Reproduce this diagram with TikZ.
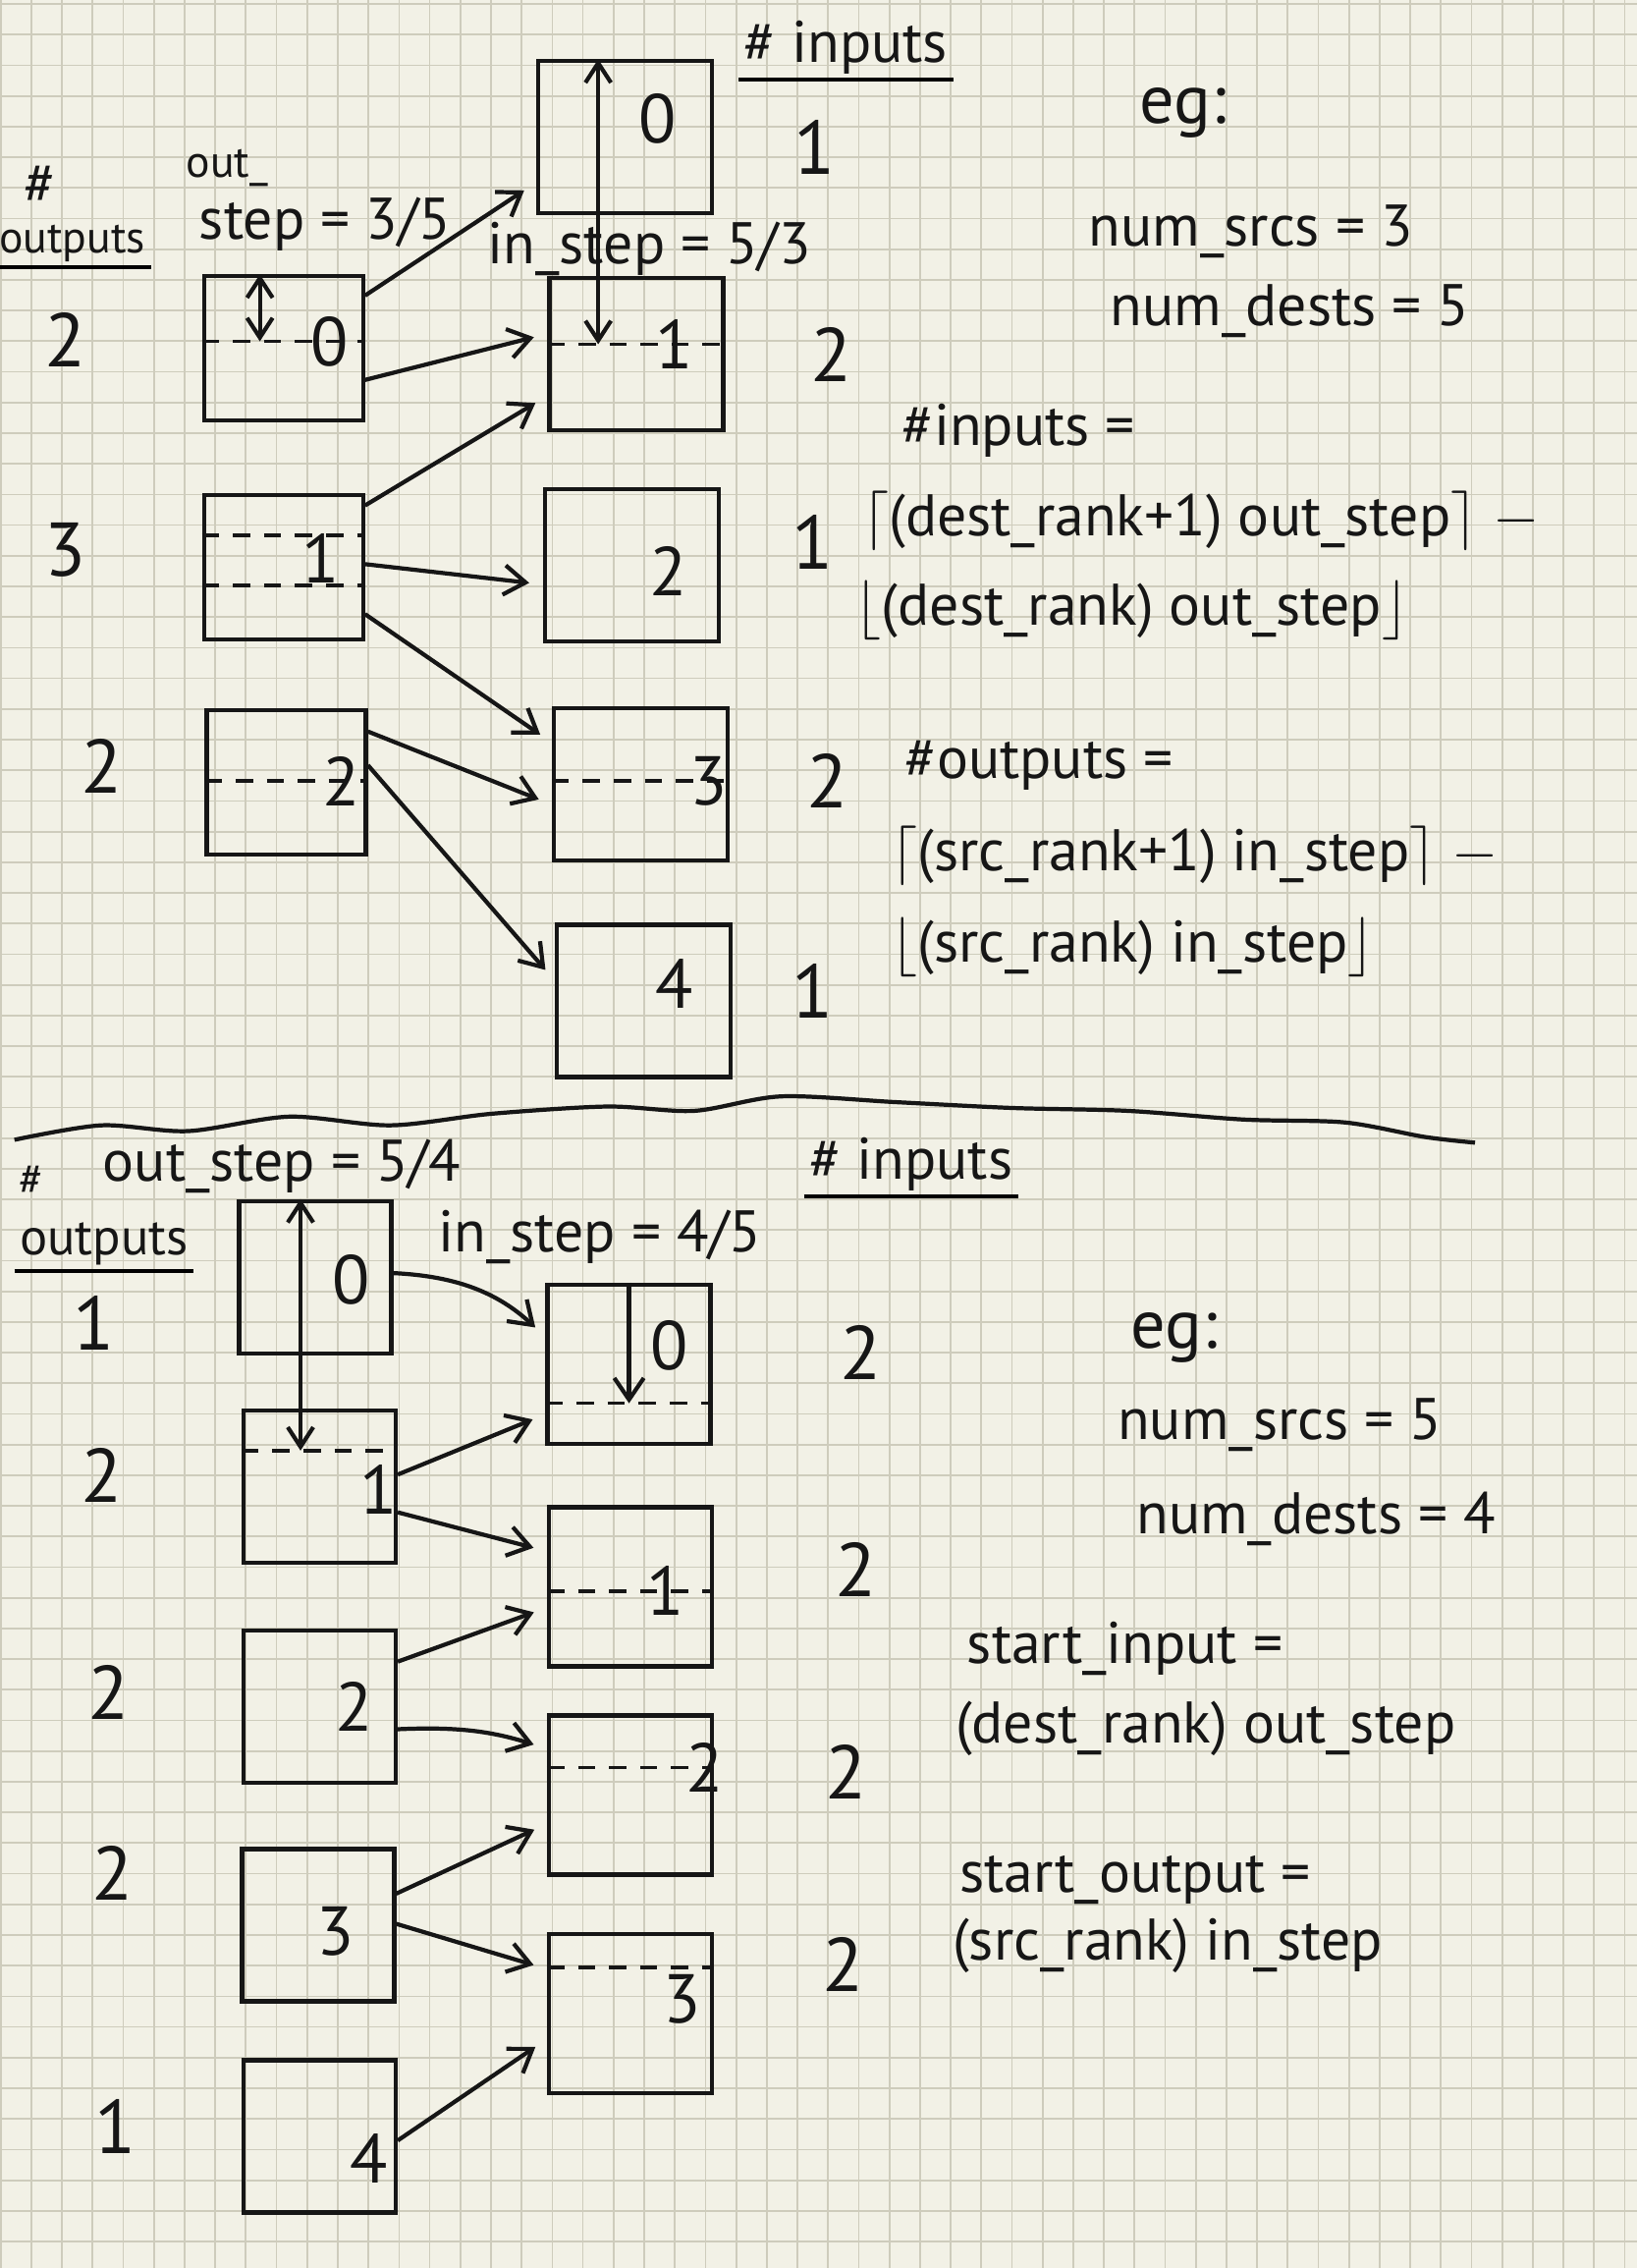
\documentclass[tikz,border=0pt]{standalone}
\usepackage{fontspec}
\setmainfont{PT Sans}
\usepackage{amsmath}
\usetikzlibrary{arrows.meta}

\definecolor{paper}{RGB}{242,241,230}
\definecolor{gridcol}{RGB}{206,204,188}
\definecolor{ink}{RGB}{22,22,22}

\begin{document}
\begin{tikzpicture}[
				x=0.14726mm, y=-0.14726mm,
				line width=1.2pt,
				srcbox/.style={
					draw=ink,
					minimum width=16.2mm,
					minimum height=14.7mm,
					inner sep=0pt
				},
				dstbox/.style={
					draw=ink,
					minimum width=17.7mm,
					minimum height=15.5mm,
					inner sep=0pt
				},
				lowsrc/.style={
					srcbox,
					minimum width=15.5mm,
					minimum height=15.5mm
				},
				lowdst/.style={
					dstbox,
					minimum width=16.6mm,
					minimum height=16.2mm
				},
				conn/.style={
					draw=ink,
					-{Straight Barb[length=2.2mm,width=3mm]},
					shorten >=4pt
				},
				measure/.style={
					draw=ink,
					{Straight Barb[length=2mm,width=2.6mm]}-{Straight Barb[length=2mm,width=2.6mm]}
				},
				divider/.style={
					draw=ink,
					line width=1pt,
					dash pattern=on 5pt off 4pt
				},
				hand/.style={
					text=ink,
					font=\fontsize{17}{20}\selectfont,
					inner sep=1pt
				},
				small/.style={
					hand,
					font=\fontsize{13}{15}\selectfont
				},
				formula/.style={
					hand,
					font=\fontsize{17}{20}\selectfont,
					inner sep=0pt
				},
				digit/.style={
					text=ink,
					font=\fontsize{20}{22}\selectfont,
					inner sep=0pt
				},
				count/.style={
					text=ink,
					font=\fontsize{22}{24}\selectfont,
					inner sep=0pt
				}
			]

				% paper
				\useasboundingbox (0,0) rectangle (1132,1568);
				\fill[paper] (0,0) rectangle (1132,1568);
				\foreach \k in {0,...,53}
					\draw[gridcol, line width=0.5pt] ({0.5+21.19*\k},0) -- ({0.5+21.19*\k},1568);
				\foreach \k in {0,...,73}
					\draw[gridcol, line width=0.5pt] (0,{2.8+21.19*\k}) -- (1132,{2.8+21.19*\k});

				% ---- upper half: 3 sources, 5 destinations ----
				\node[srcbox] (a0) at (196,241) {};
				\node[srcbox] (a1) at (196,392) {};
				\node[srcbox] (a2) at (198,541) {};

				\node[dstbox] (b0) at (432,95) {};
				\node[dstbox] (b1) at (440,245) {};
				\node[dstbox] (b2) at (437,391) {};
				\node[dstbox] (b3) at (443,542) {};
				\node[dstbox] (b4) at (445,692) {};

				\node[digit] (a0l) at (228,236) {0};
				\node[digit] (a1l) at (222,386) {1};
				\node[digit] (a2l) at (236,540) {2};
				\node[digit] (b0l) at (455,82) {0};
				\node[digit] (b1l) at (466,238) {1};
				\node[digit] (b2l) at (462,395) {2};
				\node[digit] (b3l) at (490,540) {3};
				\node[digit] (b4l) at (466,680) {4};

				\draw[divider] (a0.west |- a0l) -- (a0.east |- a0l);
				\draw[divider] ([yshift=3.2mm]a1.west) -- ([yshift=3.2mm]a1.east);
				\draw[divider] ([yshift=-1.9mm]a1.west) -- ([yshift=-1.9mm]a1.east);
				\draw[divider] (a2.west |- a2l) -- (a2.east |- a2l);
				\draw[divider] (b1.west |- b1l) -- (b1.east |- b1l);
				\draw[divider] (b3.west |- b3l) -- (b3.east |- b3l);

				\draw[measure] ([xshift=-2.4mm]a0.north) -- ([xshift=-2.4mm]a0.north |- a0l);
				\draw[measure] ([xshift=-2.7mm]b0.north) -- ([xshift=-2.7mm]b0.north |- b1l);

				\draw[conn] (a0.33) -- (b0.207);
				\draw[conn] (a0.339) -- (b1.167);
				\draw[conn] (a1.37) -- (b1.205);
				\draw[conn] (a1.2) -- (b2.192);
				\draw[conn] (a1.330) -- (b3.155);
				\draw[conn] (a2.32) -- (b3.193);
				\draw[conn] (a2.12) -- (b4.167);

				% counts
				\node[count] (ao0) at (45,235) {2};
				\node[count] (ao1) at (45,380) {3};
				\node[count] (ao2) at (70,530) {2};
				\node[count] (bi0) at (563,102) {1};
				\node[count] (bi1) at (575,245) {2};
				\node[count] (bi2) at (562,375) {1};
				\node[count] (bi3) at (572,540) {2};
				\node[count] (bi4) at (562,685) {1};

				% headings
				\node[hand] (ahash) at (28,128) {\#};
				\node[small] (aouts) at (50,168) {outputs};
				\draw (aouts.south west) -- (aouts.south east);
				\node[small, anchor=west] (aout) at (125,116) {out\_};
				\node[hand, anchor=west] (astep) at (134,155) {step = 3/5};
				\node[hand] (ainstep) at (449,172) {in\_step = 5/3};
				\node[hand] (ainhdr) at (585,33) {\# inputs};
				\draw (ainhdr.south west) -- (ainhdr.south east);

				\node[hand, font=\fontsize{20}{22}\selectfont] (aeg) at (818,78) {eg:};
				\node[hand] (asrcs) at (865,160) {num\_srcs = 3};
				\node[hand] (adests) at (892,215) {num\_dests = 5};

				\node[hand, anchor=west] (finhdr) at (620,298) {\#inputs =};
				\node[formula, anchor=west] (fin1) at (595,360)
					{$\lceil$(dest\_rank+1) out\_step$\rceil$ $-$};
				\node[formula, anchor=west] (fin2) at (590,422)
					{$\lfloor$(dest\_rank) out\_step$\rfloor$};
				\node[hand, anchor=west] (fouthdr) at (622,529) {\#outputs =};
				\node[formula, anchor=west] (fout1) at (615,592)
					{$\lceil$(src\_rank+1) in\_step$\rceil$ $-$};
				\node[formula, anchor=west] (fout2) at (615,655)
					{$\lfloor$(src\_rank) in\_step$\rfloor$};

				% separator
				\draw[ink] plot[smooth] coordinates {(10,788) (70,778) (130,782) (200,772) (270,778)
					(340,770) (420,765) (480,768) (540,758) (620,762) (700,766) (780,768)
					(860,774) (930,776) (985,786) (1020,790)};

				% ---- lower half: 5 sources, 4 destinations ----
				\node[lowsrc] (c0) at (218,883) {};
				\node[lowsrc] (c1) at (221,1028) {};
				\node[lowsrc] (c2) at (221,1180) {};
				\node[lowsrc] (c3) at (220,1331) {};
				\node[lowsrc] (c4) at (221,1477) {};

				\node[lowdst] (d0) at (435,943) {};
				\node[lowdst] (d1) at (436,1097) {};
				\node[lowdst] (d2) at (436,1241) {};
				\node[lowdst] (d3) at (436,1392) {};

				\node[digit] (c0l) at (243,885) {0};
				\node[digit] (c1l) at (262,1030) {1};
				\node[digit] (c2l) at (245,1180) {2};
				\node[digit] (c3l) at (232,1335) {3};
				\node[digit] (c4l) at (255,1492) {4};
				\node[digit] (d0l) at (463,930) {0};
				\node[digit] (d1l) at (460,1100) {1};
				\node[digit] (d2l) at (487,1222) {2};
				\node[digit] (d3l) at (472,1382) {3};

				\coordinate (c1cut) at ([yshift=3.7mm]c1.center);
				\coordinate (d0cut) at ([yshift=-4mm]d0.center);
				\coordinate (d3cut) at ([yshift=4.7mm]d3.center);
				\draw[divider] (c1.west |- c1cut) -- (c1.east |- c1cut);
				\draw[divider] (d0.west |- d0cut) -- (d0.east |- d0cut);
				\draw[divider] (d1.west |- d1l) -- (d1.east |- d1l);
				\draw[divider] (d2.west |- d2l) -- (d2.east |- d2l);
				\draw[divider] (d3.west |- d3cut) -- (d3.east |- d3cut);

				\draw[measure] ([xshift=-1.5mm]c0.north) -- ([xshift=-1.5mm]c0.north |- c1cut);
				\draw[conn, shorten >=0pt] (d0.north) -- (d0.north |- d0cut);

				\draw[conn] (c0.3) to[bend left=20] (d0.162);
				\draw[conn] (c1.9) -- (d0.211);
				\draw[conn] (c1.342) -- (d1.157);
				\draw[conn] (c2.30) -- (d1.194);
				\draw[conn] (c2.344) to[bend left=10] (d2.151);
				\draw[conn] (c3.22) -- (d2.199);
				\draw[conn] (c3.1) -- (d3.152);
				\draw[conn] (c4.357) -- (d3.197);

				% counts
				\node[count] (co0) at (65,915) {1};
				\node[count] (co1) at (70,1020) {2};
				\node[count] (co2) at (75,1170) {2};
				\node[count] (co3) at (78,1295) {2};
				\node[count] (co4) at (80,1470) {1};
				\node[count] (di0) at (595,935) {2};
				\node[count] (di1) at (592,1085) {2};
				\node[count] (di2) at (585,1225) {2};
				\node[count] (di3) at (583,1358) {2};

				% headings
				\node[small] (chash) at (22,816) {\#};
				\node[hand, font=\fontsize{15}{17}\selectfont] (couts) at (72,860) {outputs};
				\draw (couts.south west) -- (couts.south east);
				\node[hand] (costep) at (195,806) {out\_step = 5/4};
				\node[hand] (dinstep) at (415,855) {in\_step = 4/5};
				\node[hand] (dinhdr) at (630,805) {\# inputs};
				\draw (dinhdr.south west) -- (dinhdr.south east);

				\node[hand, font=\fontsize{20}{22}\selectfont] (ceg) at (812,925) {eg:};
				\node[hand] (csrcs) at (885,985) {num\_srcs = 5};
				\node[hand] (cdests) at (910,1050) {num\_dests = 4};

				\node[hand, anchor=west] (sinhdr) at (665,1140) {start\_input =};
				\node[hand, anchor=west] (sin) at (657,1195) {(dest\_rank) out\_step};
				\node[hand, anchor=west] (southdr) at (660,1300) {start\_output =};
				\node[hand, anchor=west] (sout) at (655,1345) {(src\_rank) in\_step};

			\end{tikzpicture}
\end{document}
